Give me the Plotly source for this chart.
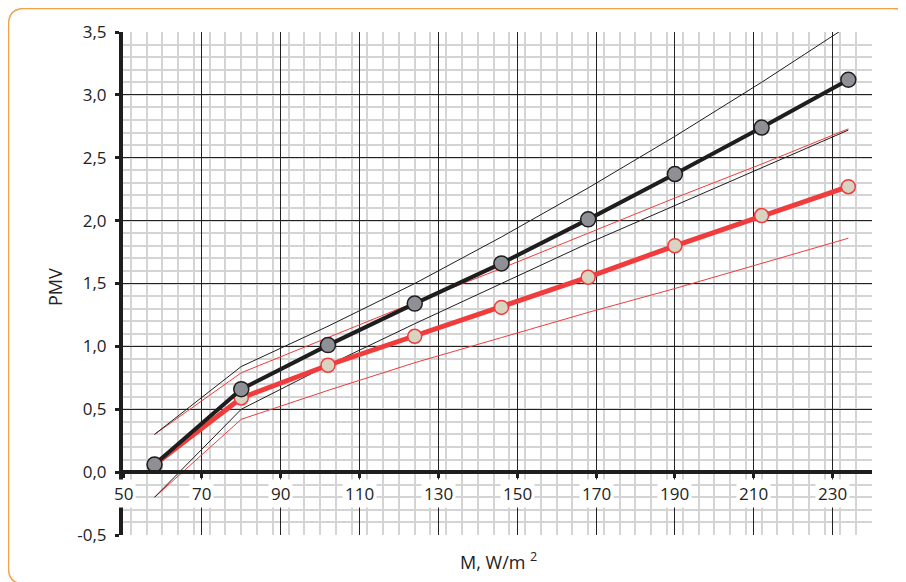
import plotly.graph_objects as go

# ---- data ----
m_values = [58, 80, 102, 124, 146, 168, 190, 212, 234]
pmv_black = [0.06, 0.66, 1.01, 1.34, 1.66, 2.01, 2.37, 2.74, 3.12]
pmv_red = [0.06, 0.59, 0.85, 1.08, 1.31, 1.55, 1.80, 2.04, 2.27]

black_upper = [0.30, 0.84, 1.16, 1.50, 1.87, 2.26, 2.67, 3.10, 3.55]
black_lower = [-0.20, 0.50, 0.85, 1.18, 1.50, 1.82, 2.12, 2.42, 2.72]
red_upper = [0.30, 0.79, 1.07, 1.35, 1.62, 1.90, 2.18, 2.45, 2.73]
red_lower = [-0.20, 0.42, 0.65, 0.87, 1.07, 1.27, 1.46, 1.66, 1.86]

x_ticks = [50, 70, 90, 110, 130, 150, 170, 190, 210, 230]
y_ticks = [-0.5, 0.0, 0.5, 1.0, 1.5, 2.0, 2.5, 3.0, 3.5]
y_ticktext = ["-0,5", "0,0", "0,5", "1,0", "1,5", "2,0", "2,5", "3,0", "3,5"]

# ---- styles ----
BLACK = "#1e1e1e"
RED = "#f03c3c"
FONT = "Open Sans"
TXT = "#222222"
FS = 17

W, H = 906, 582
L, T = 115, 24
pw, ph = 749, 503
R = W - L - pw
B = H - T - ph

fig = go.Figure()

for ys, col in [(red_upper, RED), (red_lower, RED), (black_upper, BLACK), (black_lower, BLACK)]:
    fig.add_trace(go.Scatter(x=m_values, y=ys, mode="lines",
                             line=dict(color=col, width=1), hoverinfo="skip",
                             showlegend=False))

fig.add_trace(go.Scatter(x=m_values, y=pmv_red, mode="lines+markers",
                         line=dict(color=RED, width=5),
                         marker=dict(size=14, color="#d9d3c1", line=dict(color=RED, width=1.5)),
                         showlegend=False))
fig.add_trace(go.Scatter(x=m_values, y=pmv_black, mode="lines+markers",
                         line=dict(color=BLACK, width=4),
                         marker=dict(size=15, color="#8e9096", line=dict(color=BLACK, width=1.5)),
                         showlegend=False))

fig.update_xaxes(range=[50, 240], tick0=50, dtick=20,
                 showgrid=True, gridcolor="#222222", gridwidth=1.3,
                 minor=dict(dtick=4, showgrid=True, gridcolor="#d4d4d4", gridwidth=1.6),
                 anchor="free", position=0.125,
                 showline=True, linecolor=BLACK, linewidth=4,
                 ticks="outside", ticklen=4, tickwidth=3, tickcolor=BLACK,
                 showticklabels=False, zeroline=False, fixedrange=True)
fig.update_yaxes(range=[-0.5, 3.5], tickvals=y_ticks, ticktext=y_ticktext,
                 showgrid=True, gridcolor="#222222", gridwidth=1.3,
                 minor=dict(dtick=0.1, tick0=-0.5, showgrid=True, gridcolor="#d4d4d4", gridwidth=1.6),
                 showline=True, linecolor=BLACK, linewidth=4,
                 ticks="outside", ticklen=4, tickwidth=3, tickcolor=BLACK,
                 ticklabelstandoff=5,
                 tickfont=dict(family=FONT, size=FS, color=TXT),
                 zeroline=False, fixedrange=True, automargin=False)

def px2u(px):
    return (px - L) / pw

def py2v(py):
    return (T + ph - py) / ph

annotations = []
for v in x_ticks:
    annotations.append(dict(x=v, y=0, xref="x", yref="y", yshift=-21,
                            text=str(v), showarrow=False, bgcolor="white",
                            borderpad=2,
                            font=dict(family=FONT, size=FS, color=TXT)))
annotations.append(dict(x=px2u(490), y=py2v(553), xref="paper", yref="paper",
                        xanchor="center", yanchor="middle",
                        text="M, W/m <sup>2</sup>",
                        showarrow=False,
                        font=dict(family=FONT, size=18, color=TXT)))
annotations.append(dict(x=px2u(47), y=py2v(279), xref="paper", yref="paper",
                        xanchor="center", yanchor="middle",
                        text="PMV", textangle=-90, showarrow=False,
                        font=dict(family=FONT, size=18, color=TXT)))

# rounded orange frame
x0, x1, y0, y1, r = 0.5, 901, 0.5, 576, 16
u0, u1 = px2u(x0), px2u(x1)
vt, vb = py2v(y0), py2v(y1)
ru, rv = r / pw, r / ph
path = (f"M {u0+ru},{vt} L {u1-ru},{vt} Q {u1},{vt} {u1},{vt-rv} "
        f"L {u1},{vb+rv} Q {u1},{vb} {u1-ru},{vb} "
        f"L {u0+ru},{vb} Q {u0},{vb} {u0},{vb+rv} "
        f"L {u0},{vt-rv} Q {u0},{vt} {u0+ru},{vt} Z")

fig.update_layout(
    width=W, height=H,
    margin=dict(l=L, r=R, t=T, b=B, autoexpand=False),
    paper_bgcolor="white", plot_bgcolor="white",
    annotations=annotations,
    shapes=[dict(type="path", xref="paper", yref="paper", path=path,
                 line=dict(color="#f5a04a", width=1.5), layer="below")],
    showlegend=False,
)

fig.write_html("out.html")
